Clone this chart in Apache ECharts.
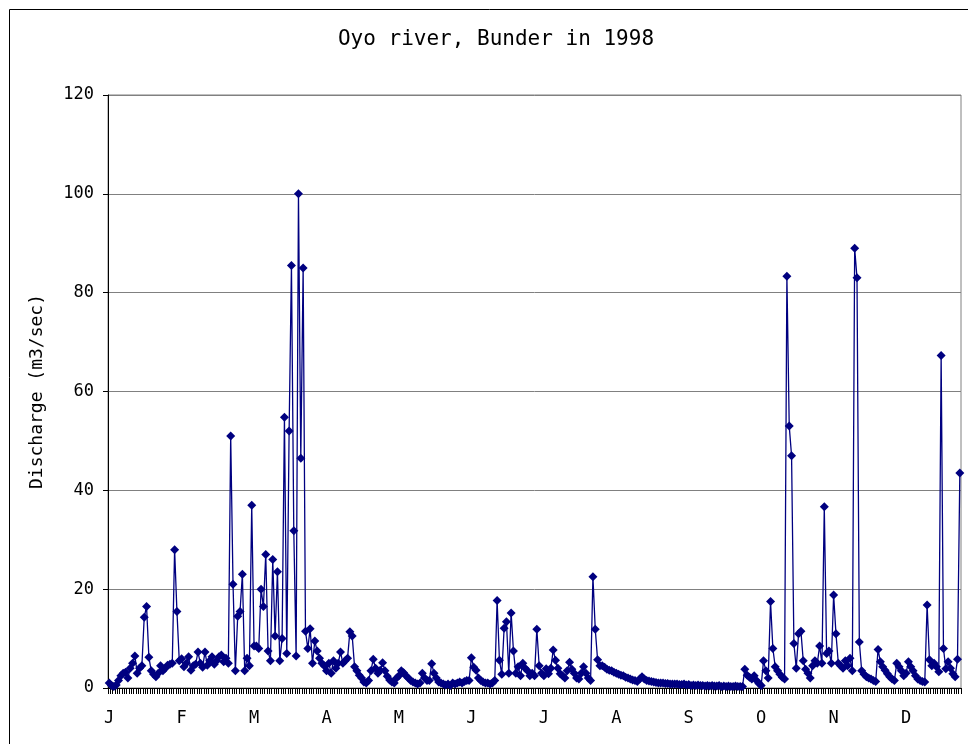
<!DOCTYPE html>
<html>
<head>
<meta charset="utf-8">
<script src="https://cdn.jsdelivr.net/npm/echarts@6/dist/echarts.min.js"></script>
<style>
html,body{margin:0;padding:0;background:#fff;}
#chart{width:968px;height:744px;}
</style>
</head>
<body>
<div id="chart"></div>
<script>
// Daily discharge (m3/sec), 1998, by month
var jan = [1.0,0.5,0.3,0.6,1.5,2.5,3.0,3.2,2.0,4.0,5.0,6.5,3.0,4.0,4.5,14.3,16.5,6.2,3.5,2.8,2.3,3.0,4.5,3.5,4.0,4.6,4.8,5.0,28.0,15.5,5.5];
var feb = [5.9,4.3,5.0,6.3,3.6,4.5,4.8,7.3,5.0,4.2,7.3,4.6,5.5,6.3,4.8,5.5,6.3,6.7,5.3,6.0,5.0,51.0,21.0,3.5,14.5,15.5,23.0,3.5];
var mar = [6.0,4.5,37.0,8.5,8.5,8.0,20.0,16.5,27.0,7.5,5.5,26.0,10.5,23.5,5.5,10.0,54.8,7.0,52.0,85.5,31.8,6.5,100.0,46.5,85.0,11.5,8.0,12.0,5.0,9.5,7.5];
var apr = [6.0,5.0,4.5,3.5,5.0,3.0,5.5,4.0,5.0,7.3,5.0,5.5,6.0,11.4,10.5,4.3,3.5,2.6,2.0,1.2,1.0,1.5,3.5,5.8,4.0,3.0,3.6,5.1,3.5,2.4];
var may = [1.6,1.2,1.0,2.0,2.5,3.5,3.1,2.5,2.0,1.5,1.2,1.0,0.8,1.0,3.0,2.0,1.5,1.5,4.9,3.0,2.0,1.2,1.0,0.8,0.6,0.8,0.5,1.0,0.8,1.0,1.2];
var jun = [1.0,1.3,1.5,1.5,6.1,4.2,3.6,2.0,1.5,1.2,1.0,1.0,0.8,1.0,1.5,17.7,5.6,2.8,12.1,13.4,3.0,15.2,7.5,3.0,4.3,2.5,5.0,4.0,3.5,2.5];
var jul = [3.0,2.5,11.9,4.5,3.0,2.5,3.9,2.9,4.0,7.7,5.6,4.0,2.9,2.5,2.0,3.5,5.2,3.8,3.0,2.0,1.8,3.0,4.3,3.0,2.0,1.5,22.5,11.9,5.7,4.5,4.5];
var aug = [4.2,3.8,3.6,3.5,3.2,3.0,2.8,2.6,2.5,2.2,2.0,1.8,1.6,1.5,1.3,1.8,2.3,1.8,1.5,1.4,1.3,1.2,1.1,1.0,1.0,1.0,0.9,0.9,0.8,0.8,0.8];
var sep = [0.8,0.7,0.7,0.8,0.6,0.7,0.5,0.6,0.5,0.6,0.5,0.5,0.4,0.5,0.4,0.5,0.4,0.4,0.5,0.3,0.4,0.3,0.4,0.3,0.3,0.4,0.3,0.3,0.3,3.8];
var oct = [2.6,2.2,1.8,2.5,1.5,0.9,0.5,5.5,3.5,2.0,17.5,8.0,4.3,3.5,2.8,2.2,1.8,83.3,53.0,47.0,9.0,4.0,11.0,11.5,5.5,3.8,3.0,2.0,4.5,5.5,5.0];
var nov = [8.5,5.0,36.7,7.0,7.5,5.0,18.8,11.0,5.0,4.5,4.0,5.5,4.5,6.0,3.5,89.0,83.0,9.3,3.5,2.8,2.3,2.0,1.8,1.5,1.3,7.8,5.3,4.3,3.6,2.9];
var dec = [2.3,1.8,1.5,5.0,4.3,3.5,2.5,3.0,5.3,4.3,3.5,2.5,1.8,1.5,1.3,1.2,16.8,5.7,4.5,5.0,4.3,3.3,67.3,8.0,3.9,5.3,4.0,2.9,2.3,5.8,43.5];

var monthLabels = ['J','F','M','A','M','J','J','A','S','O','N','D'];
var yTicks = [0,20,40,60,80,100,120];

var discharge = [].concat(jan,feb,mar,apr,may,jun,jul,aug,sep,oct,nov,dec);
var days = discharge.map(function(v,i){ return String(i+1); });

var mono = "'DejaVu Sans Mono', 'Liberation Mono', monospace";
var chart = echarts.init(document.getElementById('chart'), null, {renderer:'canvas'});
chart.setOption({
  animation: false,
  backgroundColor: '#ffffff',
  title: {
    text: 'Oyo river, Bunder in 1998',
    left: 491, top: 24, textAlign: 'center',
    textStyle: {fontFamily: mono, fontSize: 21, fontWeight: 'normal', color: '#000'}
  },
  graphic: [{
    type: 'rect', silent: true,
    shape: {x: 9.5, y: 9.5, width: 1000, height: 1000},
    style: {fill: 'none', stroke: '#000', lineWidth: 1}
  }],
  grid: {left: 108, right: 7, top: 95, bottom: 56, show: true, borderColor: '#808080', borderWidth: 1, containLabel: false},
  xAxis: {
    type: 'category',
    data: days,
    boundaryGap: true,
    axisLine: {show: true, lineStyle: {color: '#000', width: 1}},
    axisTick: {show: true, interval: 0, length: 6, lineStyle: {color: '#000', width: 1}},
    axisLabel: {
      interval: 30, margin: 22,
      fontFamily: mono, fontSize: 17, color: '#000',
      formatter: function(val, idx){ return monthLabels[Math.round(idx/31)] || ''; }
    },
    splitLine: {show: false}
  },
  yAxis: {
    type: 'value', min: yTicks[0], max: yTicks[yTicks.length-1], interval: 20,
    name: 'Discharge (m3/sec)', nameLocation: 'middle', nameGap: 62,
    nameTextStyle: {fontFamily: mono, fontSize: 18, color: '#000'},
    axisLine: {show: true, lineStyle: {color: '#000', width: 1}},
    axisTick: {show: true, length: 5, lineStyle: {color: '#000'}},
    axisLabel: {fontFamily: mono, fontSize: 17, color: '#000', margin: 14},
    splitLine: {show: true, lineStyle: {color: '#808080', width: 1}}
  },
  series: [{
    type: 'line',
    data: discharge,
    symbol: 'diamond',
    symbolSize: 9,
    showAllSymbol: true,
    lineStyle: {color: '#000080', width: 1.3},
    itemStyle: {color: '#000080', borderWidth: 0}
  }]
});
</script>
</body>
</html>
